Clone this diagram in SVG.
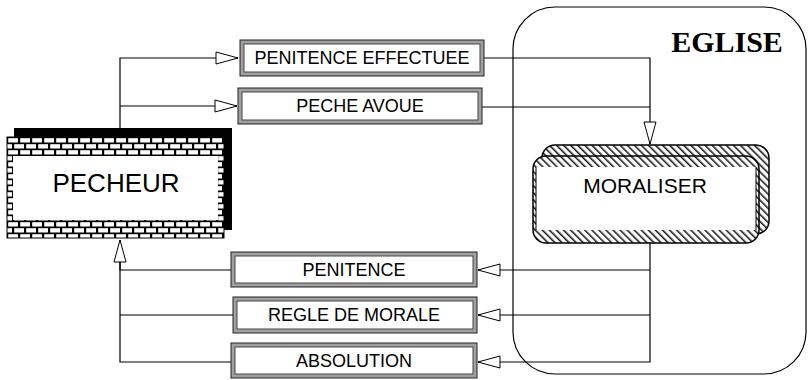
<svg xmlns="http://www.w3.org/2000/svg" width="810" height="380" viewBox="0 0 810 380">
<defs>
<pattern id="brick" x="7" y="137" width="12" height="12" patternUnits="userSpaceOnUse">
<rect width="12" height="12" fill="#000"/>
<rect x="1.2" y="1.2" width="9.8" height="4.3" fill="#fff"/>
<rect x="-4.8" y="7.2" width="9.8" height="4.3" fill="#fff"/>
<rect x="7.2" y="7.2" width="9.8" height="4.3" fill="#fff"/>
</pattern>
<pattern id="hatch" width="5" height="5" patternUnits="userSpaceOnUse" patternTransform="rotate(-45)">
<rect width="5" height="5" fill="#fff"/>
<line x1="0.8" y1="0" x2="0.8" y2="5" stroke="#000" stroke-width="1.4"/>
</pattern>
<marker id="tri" viewBox="0 0 24 14" refX="23" refY="7" markerWidth="24" markerHeight="14" markerUnits="userSpaceOnUse" orient="auto">
<path d="M1,1 L23,7 L1,13 Z" fill="#fff" stroke="#000" stroke-width="1"/>
</marker>
<style>
.ln{fill:none;stroke:#000;stroke-width:1.2}
.box{fill:#a0a0a0;stroke:#222;stroke-width:1}
.inn{fill:#fff;stroke:#444;stroke-width:1}
.t{font-family:"Liberation Sans",Arial,sans-serif;fill:#000;text-anchor:middle}
</style>
</defs>

<g id="eglise">
<rect x="513" y="7" width="293" height="367" rx="42" ry="42" fill="none" stroke="#000" stroke-width="1.2"/>
<text x="727" y="52" font-family="'Liberation Serif','Times New Roman',serif" font-weight="bold" font-size="30" text-anchor="middle">EGLISE</text>
</g>

<g id="connectors">
<path class="ln" d="M120,128 V58 H238" marker-end="url(#tri)"/>
<path class="ln" d="M120,106 H237" marker-end="url(#tri)"/>
<path class="ln" d="M484,58 H650 V144" marker-end="url(#tri)"/>
<path class="ln" d="M482,107 H650"/>
<path class="ln" d="M650,243 V362 H478" marker-end="url(#tri)"/>
<path class="ln" d="M650,270 H478" marker-end="url(#tri)"/>
<path class="ln" d="M650,315 H478" marker-end="url(#tri)"/>
<path class="ln" d="M231,270 H120 V240" marker-end="url(#tri)"/>
<path class="ln" d="M233,315 H120"/>
<path class="ln" d="M231,362 H120 V262"/>
</g>

<g id="pecheur">
<rect x="14" y="128" width="218" height="102" fill="#000"/>
<rect x="7" y="137" width="217" height="101" fill="url(#brick)" stroke="#000" stroke-width="1"/>
<rect x="13" y="156" width="205" height="64" fill="#fff"/>
<text class="t" x="116" y="192" font-size="26">PECHEUR</text>
</g>

<g id="moraliser">
<rect x="542" y="145" width="227" height="89" rx="13" fill="url(#hatch)" stroke="#000" stroke-width="1.5"/>
<rect x="533" y="156" width="226" height="87" rx="13" fill="url(#hatch)" stroke="#000" stroke-width="1.5"/>
<rect x="536" y="167" width="220" height="63" fill="#fff"/>
<path d="M536,167 V230 M756,167 V230" stroke="#000" stroke-width="1" fill="none"/>
<text class="t" x="645" y="193" font-size="21">MORALISER</text>
</g>

<g id="penitence-effectuee">
<rect class="box" x="240" y="40" width="244" height="36"/>
<rect class="inn" x="244" y="44" width="236" height="28"/>
<text class="t" x="362" y="64" font-size="18">PENITENCE EFFECTUEE</text>
</g>

<g id="peche-avoue">
<rect class="box" x="238" y="88" width="244" height="36"/>
<rect class="inn" x="242" y="92" width="236" height="28"/>
<text class="t" x="360" y="112" font-size="18">PECHE AVOUE</text>
</g>

<g id="penitence">
<rect class="box" x="231" y="252" width="246" height="35"/>
<rect class="inn" x="235" y="256" width="238" height="27"/>
<text class="t" x="354" y="276" font-size="18">PENITENCE</text>
</g>

<g id="regle-de-morale">
<rect class="box" x="233" y="297" width="244" height="36"/>
<rect class="inn" x="237" y="301" width="236" height="28"/>
<text class="t" x="354" y="321" font-size="18">REGLE DE MORALE</text>
</g>

<g id="absolution">
<rect class="box" x="231" y="343" width="246" height="35"/>
<rect class="inn" x="235" y="347" width="238" height="27"/>
<text class="t" x="354" y="367" font-size="18">ABSOLUTION</text>
</g>
</svg>
